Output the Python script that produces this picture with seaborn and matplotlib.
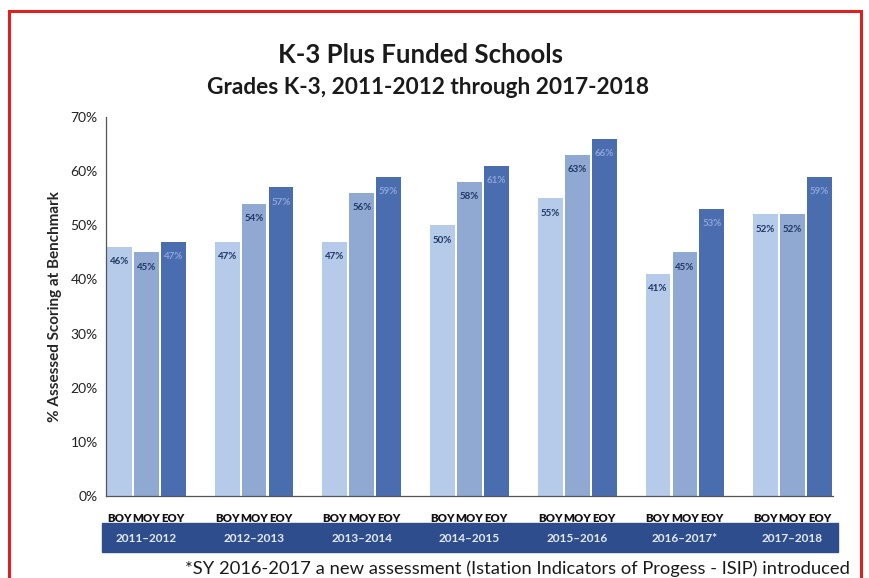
#!/usr/bin/env python3
"""K-3 Plus Funded Schools: % assessed scoring at benchmark, BOY/MOY/EOY by school year."""

import matplotlib.pyplot as plt
import pandas as pd
import seaborn as sns
from matplotlib.patches import Rectangle
from matplotlib.transforms import blended_transform_factory

YEARS = ["2011–2012", "2012–2013", "2013–2014", "2014–2015", "2015–2016", "2016–2017*", "2017–2018"]
PERIODS = ["BOY", "MOY", "EOY"]
BOY = [46, 47, 47, 50, 55, 41, 52]
MOY = [45, 54, 56, 58, 63, 45, 52]
EOY = [47, 57, 59, 61, 66, 53, 59]

TITLE = "K-3 Plus Funded Schools"
SUBTITLE = "Grades K-3, 2011-2012 through 2017-2018"
Y_LABEL = "% Assessed Scoring at Benchmark"
FOOTNOTE = "*SY 2016-2017 a new assessment (Istation Indicators of Progess - ISIP) introduced"

COLORS = {"BOY": "#B6CAE9", "MOY": "#8FA9D3", "EOY": "#4A6DB0"}
LABEL_COLORS = {"BOY": "#1F3864", "MOY": "#1F3864", "EOY": "#8EA6D8"}
BAND_COLOR = "#2E4D8D"

W, H = 869, 578


def build_frame() -> tuple[pd.DataFrame, list[str]]:
    rows = []
    order = []
    for i, year in enumerate(YEARS):
        for period, values in zip(PERIODS, (BOY, MOY, EOY)):
            slot = f"{year} {period}"
            order.append(slot)
            rows.append({"slot": slot, "year": year, "period": period, "value": values[i]})
        if i < len(YEARS) - 1:
            order.append(f"gap{i}")
    return pd.DataFrame(rows), order


def main() -> None:
    sns.set_theme(style="white")
    plt.rcParams["font.family"] = ["Lato", "DejaVu Sans"]

    df, order = build_frame()

    fig = plt.figure(figsize=(W / 100, H / 100), dpi=100)
    ax = fig.add_axes([106 / W, 1 - 496 / H, (833 - 106) / W, (496 - 117) / H])

    sns.barplot(
        data=df, x="slot", y="value", hue="period", order=order, hue_order=PERIODS,
        palette=COLORS, dodge=False, width=0.92, saturation=1, legend=False, ax=ax,
        edgecolor="none", linewidth=0,
    )

    for container, period in zip(ax.containers, PERIODS):
        ax.bar_label(
            container, fmt="{:.0f}%", padding=-14, fontsize=7, fontweight="bold",
            color=LABEL_COLORS[period],
        )

    ax.set_ylim(0, 70)
    ax.set_yticks(range(0, 71, 10))
    ax.set_yticklabels([f"{v}%" for v in range(0, 71, 10)], fontsize=10, color="#222222")
    ax.set_xlim(-0.5, len(order) - 0.5)

    # major ticks at slot boundaries, minor (labelled) ticks at bar centres
    ax.set_xticks([i - 0.5 for i in range(len(order) + 1)])
    ax.set_xticklabels([])
    centres = [i for i, s in enumerate(order) if not s.startswith("gap")]
    ax.set_xticks(centres, minor=True)
    ax.set_xticklabels([s.split(" ")[-1] for s in order if not s.startswith("gap")],
                       minor=True, fontsize=8.2, fontweight="heavy", color="#111111")
    ax.tick_params(axis="x", which="major", direction="out", length=4, width=0.8, color="#444444")
    ax.tick_params(axis="x", which="minor", length=0, pad=12)
    ax.tick_params(axis="y", direction="out", length=4, width=0.8, color="#444444", pad=2)

    ax.set_xlabel("")
    ax.set_ylabel(Y_LABEL, fontsize=11, fontweight="bold", labelpad=6)
    sns.despine(ax=ax)
    for side in ("left", "bottom"):
        ax.spines[side].set_color("#555555")
        ax.spines[side].set_linewidth(0.9)

    # year band under the axis
    trans = blended_transform_factory(ax.transData, fig.transFigure)
    fig.add_artist(Rectangle((102 / W, 1 - 552 / H), (838 - 102) / W, 29 / H,
                             transform=fig.transFigure, color=BAND_COLOR, zorder=1))
    for i, year in enumerate(YEARS):
        mid = order.index(f"{year} MOY")
        fig.text(mid, 1 - 538 / H, year, transform=trans, ha="center", va="center",
                 fontsize=8.5, fontweight="bold", color="#E4EAF5", zorder=2)

    fig.text(420 / W, 1 - 55 / H, TITLE, ha="center", va="center",
             fontsize=18.5, fontweight="bold", color="#1a1a1a")
    fig.text(428 / W, 1 - 88 / H, SUBTITLE, ha="center", va="center",
             fontsize=16.3, fontweight="bold", color="#1a1a1a")
    fig.text(185 / W, 1 - 569 / H, FOOTNOTE, ha="left", va="center",
             fontsize=13.2, color="#1a1a1a")

    # red frame around the whole chart
    fig.add_artist(Rectangle((9 / W, -0.1), (861 - 9) / W, 1.1 - 11 / H,
                             transform=fig.transFigure, fill=False,
                             edgecolor="#E0201C", linewidth=2.2, zorder=5))

    fig.savefig("out.png", dpi=100)
    plt.close(fig)


if __name__ == "__main__":
    main()
